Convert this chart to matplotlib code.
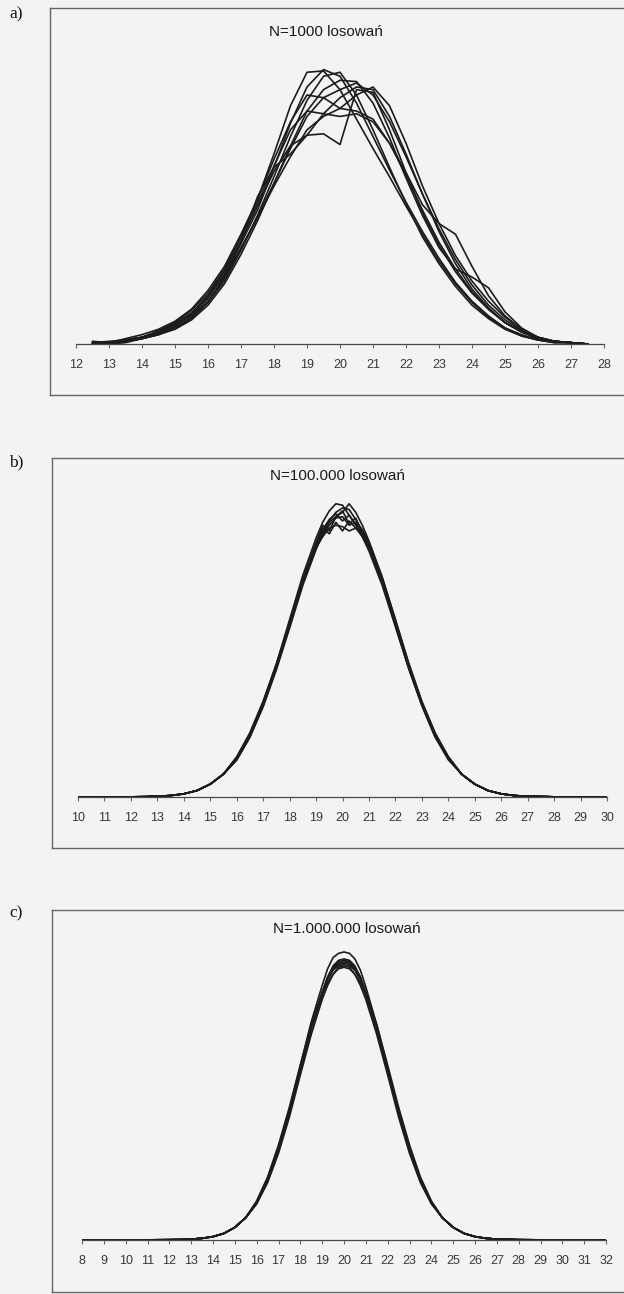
import numpy as np
import matplotlib
matplotlib.use("Agg")
import matplotlib.pyplot as plt

# ---- data (density heights, arbitrary units) ----
# panel a: N=1000 draws, sampled every 0.5
xa = [12.5, 13, 13.5, 14, 14.5, 15, 15.5, 16, 16.5, 17, 17.5, 18, 18.5, 19, 19.5, 20,
      20.5, 21, 21.5, 22, 22.5, 23, 23.5, 24, 24.5, 25, 25.5, 26, 26.5, 27, 27.5]
a1 = [0.000, 0.001, 0.003, 0.005, 0.009, 0.015, 0.023, 0.036, 0.055, 0.080, 0.108, 0.142, 0.178, 0.203, 0.204, 0.190,
      0.168, 0.146, 0.125, 0.103, 0.082, 0.062, 0.045, 0.031, 0.020, 0.012, 0.006, 0.003, 0.001, 0.001, 0.000]
a2 = [0.000, 0.001, 0.002, 0.004, 0.008, 0.013, 0.022, 0.034, 0.052, 0.075, 0.100, 0.132, 0.165, 0.192, 0.205, 0.200,
      0.180, 0.155, 0.130, 0.106, 0.084, 0.064, 0.046, 0.032, 0.021, 0.012, 0.007, 0.003, 0.002, 0.001, 0.000]
a3 = [0.000, 0.000, 0.002, 0.004, 0.007, 0.012, 0.020, 0.031, 0.047, 0.070, 0.096, 0.125, 0.155, 0.182, 0.200, 0.203,
      0.186, 0.160, 0.132, 0.105, 0.080, 0.060, 0.043, 0.029, 0.019, 0.011, 0.006, 0.003, 0.001, 0.001, 0.000]
a4 = [0.000, 0.001, 0.003, 0.005, 0.009, 0.014, 0.021, 0.032, 0.049, 0.071, 0.095, 0.120, 0.146, 0.170, 0.184, 0.190,
      0.195, 0.186, 0.166, 0.140, 0.112, 0.086, 0.063, 0.044, 0.029, 0.018, 0.010, 0.005, 0.002, 0.001, 0.000]
a5 = [0.000, 0.001, 0.003, 0.005, 0.009, 0.015, 0.023, 0.035, 0.051, 0.072, 0.094, 0.118, 0.140, 0.160, 0.170, 0.176,
      0.186, 0.192, 0.178, 0.150, 0.118, 0.090, 0.066, 0.047, 0.032, 0.020, 0.011, 0.005, 0.002, 0.001, 0.000]
a6 = [0.000, 0.001, 0.004, 0.007, 0.011, 0.017, 0.026, 0.040, 0.058, 0.082, 0.108, 0.138, 0.166, 0.186, 0.184, 0.176,
      0.174, 0.168, 0.150, 0.126, 0.100, 0.076, 0.056, 0.039, 0.026, 0.016, 0.009, 0.004, 0.002, 0.001, 0.000]
a7 = [0.000, 0.001, 0.003, 0.005, 0.009, 0.015, 0.023, 0.036, 0.054, 0.077, 0.103, 0.129, 0.148, 0.156, 0.157, 0.149,
      0.190, 0.188, 0.160, 0.128, 0.098, 0.074, 0.054, 0.038, 0.026, 0.016, 0.009, 0.004, 0.002, 0.001, 0.000]
a8 = [0.001, 0.002, 0.003, 0.005, 0.010, 0.016, 0.025, 0.038, 0.056, 0.080, 0.105, 0.133, 0.160, 0.174, 0.172, 0.170,
      0.172, 0.166, 0.150, 0.128, 0.104, 0.090, 0.082, 0.058, 0.036, 0.021, 0.011, 0.005, 0.002, 0.001, 0.000]
a9 = [0.000, 0.000, 0.001, 0.004, 0.007, 0.011, 0.018, 0.029, 0.045, 0.067, 0.092, 0.120, 0.148, 0.174, 0.190, 0.197,
      0.196, 0.180, 0.154, 0.124, 0.096, 0.072, 0.056, 0.050, 0.042, 0.024, 0.012, 0.005, 0.002, 0.001, 0.000]
a10 = [0.002, 0.001, 0.002, 0.004, 0.007, 0.012, 0.019, 0.031, 0.050, 0.076, 0.110, 0.132, 0.142, 0.156, 0.172, 0.184,
       0.192, 0.190, 0.170, 0.142, 0.112, 0.084, 0.060, 0.041, 0.027, 0.016, 0.009, 0.004, 0.002, 0.001, 0.000]

# panels b and c: tails are practically the same for every run, the core differs
core_x = [16, 16.5, 17, 17.5, 18, 18.5, 19, 19.25, 19.5, 19.75, 20, 20.25, 20.5, 20.75, 21,
          21.5, 22, 22.5, 23, 23.5, 24]

# panel b: N=100.000 draws
xb = [10, 11, 12, 12.5, 13, 13.5, 14, 14.5, 15, 15.5] + core_x + [24.5, 25, 25.5, 26, 26.5, 27, 28, 29, 30]
b_left = [0.000, 0.000, 0.0001, 0.0002, 0.0005, 0.001, 0.0022, 0.0045, 0.009, 0.016]
b_right = [0.016, 0.009, 0.0045, 0.0022, 0.001, 0.0005, 0.0001, 0.000, 0.000]
b_core = [
    [0.027, 0.043, 0.066, 0.093, 0.124, 0.155, 0.181, 0.192, 0.200, 0.205, 0.204, 0.197, 0.190, 0.182, 0.172, 0.148, 0.119, 0.090, 0.064, 0.042, 0.027],
    [0.026, 0.042, 0.063, 0.089, 0.118, 0.148, 0.173, 0.184, 0.192, 0.196, 0.199, 0.205, 0.199, 0.190, 0.179, 0.154, 0.124, 0.093, 0.066, 0.044, 0.028],
    [0.027, 0.044, 0.066, 0.092, 0.122, 0.152, 0.178, 0.190, 0.186, 0.196, 0.200, 0.191, 0.195, 0.185, 0.175, 0.150, 0.121, 0.091, 0.065, 0.043, 0.027],
    [0.028, 0.044, 0.066, 0.092, 0.121, 0.150, 0.174, 0.183, 0.190, 0.195, 0.196, 0.190, 0.192, 0.187, 0.178, 0.153, 0.123, 0.092, 0.066, 0.044, 0.028],
    [0.027, 0.043, 0.065, 0.092, 0.122, 0.152, 0.177, 0.188, 0.184, 0.192, 0.186, 0.193, 0.188, 0.182, 0.174, 0.151, 0.122, 0.092, 0.066, 0.044, 0.028],
    [0.026, 0.042, 0.064, 0.090, 0.120, 0.150, 0.176, 0.187, 0.194, 0.198, 0.193, 0.197, 0.191, 0.184, 0.175, 0.151, 0.121, 0.091, 0.065, 0.043, 0.027],
    [0.028, 0.045, 0.067, 0.093, 0.122, 0.151, 0.174, 0.182, 0.188, 0.190, 0.189, 0.186, 0.188, 0.184, 0.176, 0.153, 0.124, 0.094, 0.067, 0.045, 0.028],
    [0.026, 0.042, 0.064, 0.090, 0.120, 0.150, 0.175, 0.185, 0.193, 0.199, 0.202, 0.201, 0.194, 0.186, 0.175, 0.150, 0.120, 0.090, 0.064, 0.042, 0.026],
]

# panel c: N=1.000.000 draws
xc = [8, 9, 10, 11, 12, 12.5, 13, 13.5, 14, 14.5, 15, 15.5] + core_x + [24.5, 25, 25.5, 26, 26.5, 27, 28, 29, 30, 31, 32]
c_left = [0.000, 0.000, 0.000, 0.0001, 0.0002, 0.0003, 0.0006, 0.0012, 0.0024, 0.0047, 0.009, 0.016]
c_right = [0.016, 0.009, 0.0047, 0.0024, 0.0012, 0.0006, 0.0002, 0.0001, 0.000, 0.000, 0.000]
c_core = [
    [0.026, 0.043, 0.066, 0.094, 0.125, 0.156, 0.182, 0.194, 0.202, 0.205, 0.206, 0.205, 0.201, 0.193, 0.181, 0.154, 0.123, 0.092, 0.065, 0.043, 0.027],
    [0.027, 0.043, 0.065, 0.092, 0.122, 0.152, 0.177, 0.188, 0.195, 0.199, 0.200, 0.199, 0.195, 0.188, 0.177, 0.152, 0.122, 0.092, 0.065, 0.043, 0.027],
    [0.027, 0.044, 0.066, 0.093, 0.122, 0.152, 0.176, 0.186, 0.193, 0.197, 0.198, 0.197, 0.193, 0.186, 0.176, 0.151, 0.121, 0.091, 0.065, 0.043, 0.027],
    [0.028, 0.045, 0.068, 0.095, 0.125, 0.154, 0.177, 0.187, 0.193, 0.196, 0.197, 0.195, 0.190, 0.182, 0.172, 0.147, 0.118, 0.088, 0.062, 0.041, 0.026],
    [0.026, 0.041, 0.062, 0.088, 0.118, 0.147, 0.172, 0.182, 0.190, 0.195, 0.196, 0.196, 0.193, 0.187, 0.177, 0.154, 0.125, 0.095, 0.068, 0.045, 0.028],
    [0.027, 0.044, 0.066, 0.093, 0.122, 0.151, 0.175, 0.184, 0.190, 0.194, 0.195, 0.194, 0.190, 0.184, 0.175, 0.151, 0.122, 0.093, 0.066, 0.044, 0.027],
    [0.027, 0.043, 0.065, 0.092, 0.121, 0.151, 0.176, 0.187, 0.194, 0.198, 0.199, 0.198, 0.194, 0.187, 0.176, 0.151, 0.121, 0.092, 0.065, 0.043, 0.027],
    [0.026, 0.042, 0.064, 0.091, 0.121, 0.151, 0.177, 0.188, 0.196, 0.200, 0.201, 0.200, 0.196, 0.188, 0.177, 0.151, 0.121, 0.091, 0.064, 0.042, 0.026],
]

titles = ["N=1000 losowań", "N=100.000 losowań", "N=1.000.000 losowań"]
letters = ["a)", "b)", "c)"]

# ---- layout (pixels, measured from the top-left of a 624x1294 page) ----
W, H = 624, 1294
BG = "#f3f3f1"
INK = "#1c1c1c"

fig = plt.figure(figsize=(W / 100, H / 100), dpi=100, facecolor=BG)


def px_axes(left, top, right, bottom, **kw):
    return fig.add_axes([left / W, 1 - bottom / H, (right - left) / W, (bottom - top) / H], **kw)


# frame box, inner plot box, x limits, y top, title position, letter y
panels = [
    dict(frame=(50, 8, 640, 395), inner=(76, 8, 604, 344), xlim=(12, 28), ytop=0.251, tx=326, ty=32, ly=14),
    dict(frame=(52, 458, 640, 848), inner=(78, 458, 607, 797), xlim=(10, 30), ytop=0.237, tx=338, ty=476, ly=462),
    dict(frame=(52, 910, 640, 1292), inner=(82, 910, 606, 1240), xlim=(8, 32), ytop=0.236, tx=347, ty=929, ly=913),
]

series = [
    (xa, [a1, a2, a3, a4, a5, a6, a7, a8, a9, a10]),
    (xb, [b_left + c + b_right for c in b_core]),
    (xc, [c_left + c + c_right for c in c_core]),
]

for p, (xs, curves), title, letter in zip(panels, series, titles, letters):
    fl, ft, fr, fb = p["frame"]
    frame = px_axes(fl, ft, fr, fb)
    frame.set_facecolor("none")
    frame.set_xticks([])
    frame.set_yticks([])
    for s in frame.spines.values():
        s.set_color("#666666")
        s.set_linewidth(1.0)

    ax = px_axes(*p["inner"])
    ax.set_facecolor("none")
    for c in curves:
        ax.plot(xs, c, color=INK, lw=1.2, solid_joinstyle="round")
    ax.set_xlim(*p["xlim"])
    ax.set_ylim(0, p["ytop"])
    for side in ["left", "right", "top"]:
        ax.spines[side].set_visible(False)
    ax.spines["bottom"].set_color("#4a4a4a")
    ax.spines["bottom"].set_linewidth(0.9)
    ax.set_yticks([])
    ax.set_xticks(np.arange(p["xlim"][0], p["xlim"][1] + 1))
    ax.tick_params(axis="x", length=3, width=0.8, color="#666666", pad=8.0,
                   labelsize=9, labelcolor="#383838")
    for t in ax.get_xticklabels():
        t.set_family("Liberation Sans")

    fig.text(p["tx"] / W, 1 - p["ty"] / H, title, ha="center", va="center",
             fontsize=11, family="Liberation Sans", color="#1a1a1a")
    fig.text(9 / W, 1 - p["ly"] / H, letter, ha="left", va="center",
             fontsize=12.5, family="Liberation Serif", color="#111111")

fig.savefig("out.png", dpi=100, facecolor=BG)
